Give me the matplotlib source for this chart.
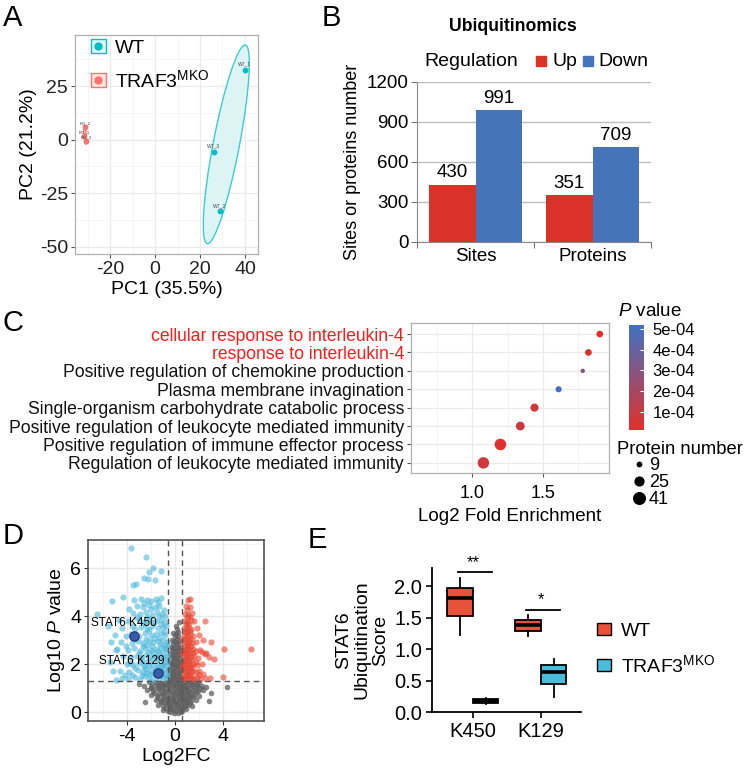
import numpy as np
import matplotlib
matplotlib.use('Agg')
import matplotlib.pyplot as plt
from matplotlib.patches import Ellipse, Patch, Rectangle
from matplotlib.lines import Line2D
from matplotlib.colors import LinearSegmentedColormap, Normalize
from matplotlib.legend_handler import HandlerTuple
import matplotlib.cm as cm

plt.rcParams['font.family'] = ['Liberation Sans', 'DejaVu Sans']
plt.rcParams['mathtext.fontset'] = 'custom'
plt.rcParams['mathtext.rm'] = 'Liberation Sans'
plt.rcParams['mathtext.it'] = 'Liberation Sans:italic'
plt.rcParams['mathtext.bf'] = 'Liberation Sans:bold'
plt.rcParams['axes.unicode_minus'] = False

# ---------------- data ----------------
# A: PCA
pca_wt_names = ['WT_1', 'WT_3', 'WT_2']
pca_wt_pc1 = [40.0, 26.2, 28.9]
pca_wt_pc2 = [32.5, -5.6, -33.4]
pca_ko_names = ['KO_2', 'KO_1', 'KO_3']
pca_ko_pc1 = [-31.2, -31.5, -30.7]
pca_ko_pc2 = [5.8, 1.8, -0.5]
pca_xticks = [-20, 0, 20, 40]
pca_yticks = [-50, -25, 0, 25]

# B: bar chart
ubi_categories = ['Sites', 'Proteins']
ubi_up = [430, 351]
ubi_down = [991, 709]
ubi_yticks = [0, 300, 600, 900, 1200]

# C: GO enrichment
go_terms = ['cellular response to interleukin-4',
            'response to interleukin-4',
            'Positive regulation of chemokine production',
            'Plasma membrane invagination',
            'Single-organism carbohydrate catabolic process',
            'Positive regulation of leukocyte mediated immunity',
            'Positive regulation of immune effector process',
            'Regulation of leukocyte mediated immunity']
go_fold = [1.90, 1.82, 1.78, 1.61, 1.44, 1.34, 1.20, 1.08]
go_pvalue = [1.2e-5, 2.0e-5, 2.9e-4, 5.2e-4, 6.0e-5, 8.5e-5, 2.5e-5, 7.0e-5]
go_count = [16, 16, 9, 14, 22, 25, 41, 40]
go_red_terms = [0, 1]
go_size_legend = [9, 25, 41]
go_cbar_ticks = [1e-4, 2e-4, 3e-4, 4e-4, 5e-4]
go_cbar_labels = ['1e-04', '2e-04', '3e-04', '4e-04', '5e-04']

# D: volcano
down_pts = [(-4.4, 1.42), (-3.9, 1.38), (-3.3, 1.45), (-2.9, 1.36), (-2.5, 1.48), (-2.2, 1.4), (-1.9, 1.35),
            (-1.6, 1.5), (-1.3, 1.38), (-1.0, 1.44), (-0.75, 1.36), (-1.15, 1.55), (-0.85, 1.6), (-2.05, 1.58),
            (-2.75, 1.55), (-4.6, 1.72), (-3.8, 1.68), (-3.1, 1.75), (-2.7, 1.66), (-2.4, 1.78), (-2.0, 1.7),
            (-1.7, 1.74), (-1.2, 1.68), (-0.9, 1.8), (-0.65, 1.7), (-1.45, 1.85), (-0.7, 1.95), (-4.0, 2.02),
            (-3.5, 1.96), (-3.0, 2.05), (-2.6, 1.98), (-2.3, 2.08), (-1.9, 1.95), (-1.5, 2.04), (-1.1, 1.98),
            (-0.8, 2.1), (-0.62, 2.2), (-1.3, 2.2), (-4.3, 2.32), (-3.7, 2.28), (-3.2, 2.35), (-2.8, 2.26),
            (-2.4, 2.38), (-2.1, 2.3), (-1.7, 2.34), (-1.3, 2.42), (-1.0, 2.3), (-0.7, 2.45), (-4.8, 2.62),
            (-3.9, 2.58), (-3.4, 2.65), (-2.9, 2.56), (-2.5, 2.68), (-2.0, 2.6), (-1.6, 2.64), (-1.2, 2.7),
            (-0.85, 2.62), (-0.65, 2.8), (-4.5, 2.92), (-3.6, 2.88), (-3.1, 2.95), (-2.7, 2.86), (-2.2, 2.98),
            (-1.8, 2.9), (-1.4, 2.94), (-1.0, 3.0), (-0.7, 2.9), (-5.0, 3.22), (-4.1, 3.18), (-3.7, 3.25),
            (-3.0, 3.16), (-2.5, 3.28), (-2.0, 3.2), (-1.6, 3.24), (-1.2, 3.3), (-0.8, 3.2), (-4.4, 3.52),
            (-3.3, 3.48), (-2.8, 3.55), (-2.3, 3.46), (-1.9, 3.58), (-1.4, 3.5), (-1.0, 3.54), (-0.75, 3.6),
            (-4.7, 3.82), (-3.9, 3.78), (-3.0, 3.85), (-2.6, 3.76), (-2.1, 3.88), (-1.6, 3.8), (-1.2, 3.84),
            (-0.8, 3.75), (-3.5, 4.12), (-2.9, 4.08), (-2.4, 4.15), (-1.9, 4.06), (-1.5, 4.18), (-1.1, 4.1),
            (-0.8, 4.02), (-3.2, 4.42), (-2.7, 4.38), (-2.2, 4.45), (-1.7, 4.36), (-1.3, 4.4), (-3.4, 4.68),
            (-2.8, 4.72), (-2.3, 4.66), (-1.6, 4.7), (-1.2, 4.74), (-2.0, 4.62),
            (-3.55, 1.55), (-2.35, 1.62), (-1.75, 1.6), (-1.05, 1.72), (-0.68, 1.5), (-3.35, 1.85),
            (-2.55, 1.88), (-2.15, 1.9), (-1.6, 1.82), (-1.2, 1.9), (-0.95, 2.0), (-2.75, 2.15), (-2.05, 2.18),
            (-1.55, 2.25), (-0.88, 2.3), (-3.0, 2.45), (-2.25, 2.5), (-1.85, 2.52), (-1.45, 2.55), (-1.05, 2.5),
            (-0.75, 2.65), (-2.7, 2.75), (-2.3, 2.78), (-1.95, 2.75), (-1.25, 2.85), (-0.9, 2.8), (-3.3, 3.05),
            (-2.4, 3.05), (-1.75, 3.08), (-1.35, 3.1), (-0.95, 3.35), (-2.15, 3.4), (-1.2, 3.65), (-2.5, 3.65),
            (-1.8, 3.7), (-3.2, 3.95), (-2.3, 3.98), (-1.35, 4.0), (-0.95, 4.25), (-2.0, 4.3), (-2.55, 4.55),
            (-1.45, 4.58), (-3.8, 4.3), (-4.1, 2.75), (-3.75, 2.05), (-4.2, 1.55), (-3.6, 3.6), (-5.4, 2.1),
            (-5.3, 2.9),
            (-3.67, 6.85), (-2.44, 6.47), (-1.86, 6.01), (-2.14, 5.85), (-1.17, 5.87), (-2.6, 5.6),
            (-2.27, 5.53), (-3.25, 5.33), (-3.53, 5.3), (-1.67, 5.5), (-4.3, 4.78), (-5.28, 4.63),
            (-6.53, 4.08), (-5.2, 1.72), (-4.9, 1.35), (-5.6, 3.6), (-4.95, 2.6)]
up_pts = [(0.65, 1.4), (0.8, 1.36), (1.0, 1.45), (1.2, 1.38), (1.4, 1.42), (1.6, 1.36), (1.8, 1.44), (2.1, 1.38),
          (2.5, 1.42), (0.7, 1.7), (0.9, 1.66), (1.1, 1.74), (1.3, 1.68), (1.5, 1.72), (1.7, 1.65), (2.0, 1.7),
          (0.65, 2.0), (0.85, 1.96), (1.05, 2.04), (1.25, 1.98), (1.5, 2.02), (1.8, 1.96), (2.2, 2.0),
          (0.7, 2.3), (0.9, 2.26), (1.1, 2.34), (1.35, 2.28), (1.6, 2.32), (1.9, 2.26), (0.65, 2.6),
          (0.85, 2.56), (1.0, 2.64), (1.2, 2.58), (1.45, 2.62), (1.75, 2.56), (2.1, 2.6), (0.7, 2.9),
          (0.95, 2.86), (1.15, 2.94), (1.4, 2.88), (1.7, 2.92), (0.75, 3.2), (0.95, 3.16), (1.2, 3.24),
          (1.5, 3.18), (2.0, 3.22), (0.7, 3.5), (0.9, 3.46), (1.1, 3.54), (1.35, 3.48), (1.8, 3.52),
          (0.8, 3.8), (1.0, 3.76), (1.3, 3.84), (1.6, 3.78), (0.85, 4.1), (1.05, 4.06), (1.4, 4.12),
          (0.9, 4.4), (1.2, 4.36), (1.1, 4.68), (1.2, 4.72),
          (0.75, 1.55), (0.95, 1.5), (1.15, 1.58), (1.35, 1.52), (0.6, 1.85), (0.8, 1.83), (1.0, 1.88),
          (1.2, 1.85), (1.4, 1.86), (0.75, 2.15), (0.95, 2.12), (1.15, 2.18), (1.4, 2.15), (0.6, 2.45),
          (0.8, 2.42), (1.0, 2.47), (1.25, 2.44), (1.5, 2.46), (0.75, 2.75), (0.95, 2.72), (1.1, 2.78),
          (1.3, 2.74), (0.6, 3.05), (0.85, 3.03), (1.05, 3.08), (1.3, 3.05), (0.8, 3.35), (1.0, 3.33),
          (1.2, 3.38), (0.9, 3.65), (1.15, 3.68), (0.95, 3.95), (1.2, 3.98), (1.0, 4.25), (1.7, 2.1),
          (1.95, 1.55), (2.3, 1.6),
          (6.33, 2.62), (4.03, 2.62), (3.0, 2.93), (2.5, 3.79), (2.2, 2.5), (2.5, 2.4), (2.8, 2.3),
          (3.2, 2.2), (4.0, 1.47), (2.9, 1.4), (2.3, 3.0), (2.6, 2.45)]
ns_pts = [(-1.0, 0.1), (-0.6, 0.05), (-0.3, 0.12), (0.0, 0.06), (0.3, 0.1), (0.6, 0.04), (0.9, 0.12),
          (-1.4, 0.3), (-1.0, 0.26), (-0.7, 0.34), (-0.4, 0.28), (-0.1, 0.32), (0.2, 0.27), (0.5, 0.33),
          (0.8, 0.29), (1.1, 0.31), (1.4, 0.26),
          (-1.6, 0.5), (-1.2, 0.46), (-0.9, 0.54), (-0.5, 0.48), (-0.2, 0.52), (0.1, 0.47), (0.4, 0.53),
          (0.7, 0.49), (1.0, 0.51), (1.3, 0.46), (1.7, 0.52),
          (-2.0, 0.7), (-1.5, 0.66), (-1.1, 0.74), (-0.7, 0.68), (-0.3, 0.72), (0.0, 0.67), (0.3, 0.73),
          (0.6, 0.69), (0.9, 0.71), (1.2, 0.66), (1.6, 0.72), (2.0, 0.68),
          (-2.3, 0.9), (-1.8, 0.86), (-1.3, 0.94), (-0.9, 0.88), (-0.5, 0.92), (-0.1, 0.87), (0.2, 0.93),
          (0.5, 0.89), (0.8, 0.91), (1.1, 0.86), (1.5, 0.92), (1.9, 0.88), (2.3, 0.9),
          (-2.6, 1.1), (-2.0, 1.06), (-1.5, 1.14), (-1.0, 1.08), (-0.6, 1.12), (-0.2, 1.07), (0.1, 1.13),
          (0.4, 1.09), (0.7, 1.11), (1.0, 1.06), (1.4, 1.12), (1.8, 1.08), (2.2, 1.1), (2.6, 1.06),
          (-2.2, 1.24), (-1.7, 1.27), (-1.2, 1.22), (-0.8, 1.26), (-0.4, 1.23), (0.0, 1.27), (0.4, 1.22),
          (0.8, 1.26), (1.2, 1.24), (1.6, 1.27), (2.0, 1.23),
          (-0.5, 1.5), (-0.3, 1.46), (-0.1, 1.53), (0.1, 1.48), (0.3, 1.52), (0.5, 1.47),
          (-0.5, 1.8), (-0.3, 1.76), (-0.1, 1.83), (0.1, 1.78), (0.3, 1.82), (0.5, 1.77),
          (-0.45, 2.1), (-0.25, 2.06), (-0.05, 2.13), (0.15, 2.08), (0.35, 2.12), (0.55, 2.07),
          (-0.4, 2.4), (-0.2, 2.36), (0.0, 2.43), (0.2, 2.38), (0.4, 2.42),
          (-0.35, 2.7), (-0.15, 2.66), (0.05, 2.73), (0.25, 2.68), (0.45, 2.72),
          (-0.25, 3.0), (-0.05, 2.96), (0.15, 3.03), (0.35, 2.98),
          (-0.15, 3.3), (0.05, 3.27), (0.25, 3.33), (0.1, 3.6), (0.3, 3.75),
          (-0.8, 0.18), (-0.45, 0.2), (-0.15, 0.18), (0.15, 0.2), (0.45, 0.18), (0.75, 0.2), (-1.2, 0.4),
          (-0.85, 0.42), (-0.55, 0.38), (-0.25, 0.4), (0.05, 0.38), (0.35, 0.41), (0.65, 0.39), (0.95, 0.4),
          (1.25, 0.38), (-1.4, 0.6), (-1.0, 0.62), (-0.6, 0.58), (-0.2, 0.6), (0.2, 0.62), (0.5, 0.58),
          (0.85, 0.6), (1.15, 0.6), (1.5, 0.62), (-1.75, 0.8), (-1.3, 0.79), (-0.95, 0.8), (-0.55, 0.82),
          (-0.15, 0.78), (0.15, 0.8), (0.45, 0.78), (0.75, 0.81), (1.05, 0.79), (1.35, 0.8), (1.75, 0.82),
          (-2.0, 1.0), (-1.6, 0.98), (-1.2, 1.0), (-0.8, 0.99), (-0.4, 1.0), (0.0, 0.98), (0.3, 1.0),
          (0.6, 0.99), (0.9, 1.0), (1.25, 0.98), (1.65, 1.0), (2.05, 0.98), (-1.9, 1.18), (-1.35, 1.17),
          (-0.95, 1.18), (-0.55, 1.17), (-0.15, 1.18), (0.25, 1.17), (0.6, 1.18), (0.95, 1.17), (1.4, 1.18),
          (1.85, 1.16), (-0.4, 1.35), (-0.2, 1.38), (0.0, 1.36), (0.2, 1.38), (0.4, 1.36), (-0.4, 1.65),
          (-0.2, 1.64), (0.0, 1.66), (0.2, 1.64), (0.4, 1.66), (-0.35, 1.95), (-0.15, 1.96), (0.05, 1.94),
          (0.25, 1.96), (0.45, 1.94), (-0.3, 2.25), (-0.1, 2.26), (0.1, 2.24), (0.3, 2.26), (-0.25, 2.55),
          (-0.05, 2.56), (0.15, 2.54), (0.35, 2.56), (-0.15, 2.85), (0.05, 2.86), (0.25, 2.84), (0.0, 3.15),
          (0.2, 3.15), (0.15, 3.45), (-0.1, -0.05), (0.2, -0.05), (0.5, -0.02), (-0.4, -0.02),
          (4.3, 1.03), (3.0, 0.8), (-3.0, 1.18), (2.8, 0.45), (-2.5, 0.4)]
stat6_sites = ['STAT6 K450', 'STAT6 K129']
stat6_fc = [-3.4, -1.42]
stat6_logp = [3.17, 1.63]
fc_cut = 0.585
p_cut = 1.3

# E: boxplot (whislo, q1, med, q3, whishi)
box_sites = ['K450', 'K129']
box_wt = [[1.22, 1.52, 1.82, 1.97, 2.13], [1.21, 1.29, 1.38, 1.46, 1.54]]
box_ko = [[0.12, 0.145, 0.175, 0.205, 0.215], [0.24, 0.44, 0.635, 0.75, 0.84]]
box_sig = ['**', '*']
box_yticks = [0.0, 0.5, 1.0, 1.5, 2.0]

# ---------------- figure ----------------
W, H = 750, 772
fig = plt.figure(figsize=(7.5, 7.72), dpi=100)


def pbox(x0, y0, x1, y1):
    return [x0 / W, 1 - y1 / H, (x1 - x0) / W, (y1 - y0) / H]


def ptxt(x, y, s, **kw):
    fig.text(x / W, 1 - y / H, s, **kw)


TEAL = '#00BFC4'
SALMON = '#F8766D'

# panel letters
for lab, x, y in [('A', 3, 26), ('B', 322, 26), ('C', 3, 331), ('D', 3, 544), ('E', 308, 548)]:
    ptxt(x, y, lab, fontsize=21, va='baseline', ha='left')

# ===== A =====
axA = fig.add_axes(pbox(75, 35, 258, 254))
axA.set_xlim(-35.6, 45.8)
axA.set_ylim(-53.3, 48.8)
axA.set_xticks(pca_xticks)
axA.set_yticks(pca_yticks)
axA.set_xticks([-30, -10, 10, 30], minor=True)
axA.set_yticks([-37.5, -12.5, 12.5, 37.5], minor=True)
axA.set_axisbelow(True)
axA.grid(which='major', color='#EBEBEB', lw=0.9)
axA.grid(which='minor', color='#F4F4F4', lw=0.6)
axA.tick_params(which='minor', length=0)
axA.tick_params(which='major', length=3, color='#555555', labelsize=14, labelcolor='#222222', pad=2)
for s in axA.spines.values():
    s.set_color('#B0B0B0')
    s.set_linewidth(0.9)


def conf_ellipse(ax, xs, ys, k, fc, ec):
    xs = np.asarray(xs)
    ys = np.asarray(ys)
    cov = np.cov(xs, ys)
    vals, vecs = np.linalg.eigh(cov)
    ang = np.degrees(np.arctan2(vecs[1, 1], vecs[0, 1]))
    e = Ellipse((xs.mean(), ys.mean()), 2 * k * np.sqrt(vals[1]), 2 * k * np.sqrt(max(vals[0], 1e-6)),
                angle=ang, facecolor=fc, edgecolor=ec, lw=1.0, zorder=1)
    ax.add_patch(e)


conf_ellipse(axA, pca_wt_pc1, pca_wt_pc2, 1.4, '#DDF4F5', '#3CCDD0')
conf_ellipse(axA, pca_ko_pc1, pca_ko_pc2, 1.4, '#FCE4E2', SALMON)
axA.scatter(pca_wt_pc1, pca_wt_pc2, s=10, color=TEAL, zorder=3)
axA.scatter(pca_ko_pc1, pca_ko_pc2, s=10, color=SALMON, zorder=3)
for n, x, y in zip(pca_wt_names, pca_wt_pc1, pca_wt_pc2):
    axA.text(x, y + 1.5, n, fontsize=3.5, color='#444444', ha='center', va='bottom', zorder=4)
for n, x, y in zip(pca_ko_names, pca_ko_pc1, pca_ko_pc2):
    axA.text(x, y + 0.8, n, fontsize=3.2, color='#444444', ha='center', va='bottom', zorder=4)
axA.set_xlabel('PC1 (35.5%)', fontsize=14, labelpad=2)
axA.set_ylabel('PC2 (21.2%)', fontsize=14, labelpad=2)
hA = [(Patch(facecolor='#E3F6F7', edgecolor=TEAL, lw=1.0),
       Line2D([], [], marker='o', color=TEAL, ls='', ms=5)),
      (Patch(facecolor='#FCE6E4', edgecolor=SALMON, lw=1.0),
       Line2D([], [], marker='o', color=SALMON, ls='', ms=5))]
axA.legend(hA, ['WT', 'TRAF3$^{\\mathrm{MKO}}$'], handler_map={tuple: HandlerTuple(ndivide=1, pad=0)},
           loc='upper left', bbox_to_anchor=(91 / W, 1 - 39 / H), bbox_transform=fig.transFigure,
           frameon=False, fontsize=14, handlelength=0.75, handleheight=0.75, handletextpad=0.5,
           labelspacing=0.62, borderpad=0, borderaxespad=0)

# ===== B =====
axB = fig.add_axes(pbox(417, 82, 651, 242))
xB = np.arange(len(ubi_categories))
bw = 0.4
axB.bar(xB - bw / 2, ubi_up, width=bw, color='#D93228', zorder=2)
axB.bar(xB + bw / 2, ubi_down, width=bw, color='#4674B8', zorder=2)
for x, v in zip(xB - bw / 2, ubi_up):
    axB.text(x, v + 25, str(v), ha='center', va='bottom', fontsize=13.5)
for x, v in zip(xB + bw / 2, ubi_down):
    axB.text(x, v + 25, str(v), ha='center', va='bottom', fontsize=13.5)
axB.set_xlim(-0.5, 1.5)
axB.set_ylim(0, 1200)
axB.set_yticks(ubi_yticks)
axB.yaxis.grid(True, color='#BDBDBD', lw=1.0)
axB.set_axisbelow(True)
axB.set_xticks([-0.5, 0.5, 1.5])
axB.set_xticklabels([])
axB.set_xticks(xB, minor=True)
axB.set_xticklabels(ubi_categories, minor=True, fontsize=13.5)
axB.tick_params(axis='x', which='minor', length=0, pad=4)
axB.tick_params(axis='x', which='major', length=4, color='#777777')
axB.tick_params(axis='y', length=4, color='#777777', labelsize=13.5, pad=2)
for s in ['top', 'right']:
    axB.spines[s].set_visible(False)
axB.spines['left'].set_color('#888888')
axB.spines['bottom'].set_color('#888888')
axB.set_ylabel('Sites or proteins number', fontsize=13, labelpad=4)
ptxt(513, 31, 'Ubiquitinomics', fontsize=12.7, fontweight='bold', ha='center', va='baseline')
ptxt(424, 66, 'Regulation', fontsize=14, ha='left', va='baseline')
fig.patches.append(Rectangle((536 / W, 1 - 66 / H), 10 / W, 10 / H, transform=fig.transFigure,
                             color='#D93228'))
ptxt(553, 66, 'Up', fontsize=14, ha='left', va='baseline')
fig.patches.append(Rectangle((583 / W, 1 - 66 / H), 10 / W, 10 / H, transform=fig.transFigure,
                             color='#4674B8'))
ptxt(598, 66, 'Down', fontsize=14, ha='left', va='baseline')

# ===== C =====
axC = fig.add_axes(pbox(411, 323, 609, 473))
nT = len(go_terms)
yC = np.arange(nT, 0, -1)
cmapC = LinearSegmentedColormap.from_list('pv', ['#E2302A', '#3F71C3'])
normC = Normalize(vmin=min(go_pvalue), vmax=max(go_pvalue))
cmin, cmax = min(go_count), max(go_count)


def size_of(n):
    return 10 + (np.asarray(n, float) - cmin) / (cmax - cmin) * 60


axC.scatter(go_fold, yC, s=size_of(go_count), c=go_pvalue, cmap=cmapC, norm=normC, zorder=3, lw=0)
axC.set_xlim(0.57, 1.965)
axC.set_ylim(0.45, nT + 0.6)
axC.set_xticks([1.0, 1.5])
axC.set_xticklabels(['1.0', '1.5'])
axC.set_xticks([0.75, 1.25, 1.75], minor=True)
axC.set_yticks(yC)
axC.set_yticklabels(go_terms, fontsize=12.7)
for i, t in enumerate(axC.get_yticklabels()):
    t.set_color('#FF1A1A' if i in go_red_terms else '#111111')
axC.set_axisbelow(True)
axC.grid(which='major', color='#EBEBEB', lw=0.9)
axC.grid(which='minor', axis='x', color='#F3F3F3', lw=0.6)
axC.tick_params(which='minor', length=0)
axC.tick_params(which='major', length=3, color='#555555', pad=2)
axC.tick_params(axis='x', labelsize=13, pad=6)
for s in axC.spines.values():
    s.set_color('#B0B0B0')
    s.set_linewidth(0.9)
axC.set_xlabel('Log2 Fold Enrichment', fontsize=13.5, labelpad=4)

caxC = fig.add_axes(pbox(629, 325, 644, 430))
cb = fig.colorbar(cm.ScalarMappable(norm=normC, cmap=cmapC), cax=caxC)
cb.set_ticks(go_cbar_ticks)
cb.set_ticklabels(go_cbar_labels)
cb.outline.set_visible(False)
caxC.tick_params(length=3, color='white', direction='in', labelsize=12, pad=6)
ptxt(618, 316, '$\\mathit{P}$ value', fontsize=13.5, ha='left', va='baseline')
ptxt(617, 454, 'Protein number', fontsize=13.2, ha='left', va='baseline')
hC = [Line2D([], [], marker='o', color='black', ls='', ms=np.sqrt(size_of(v))) for v in go_size_legend]
fig.legend(hC, [str(v) for v in go_size_legend], loc='upper left',
           bbox_to_anchor=(631 / W, 1 - 457 / H), frameon=False, fontsize=13,
           handlelength=0.9, handletextpad=0.1, labelspacing=0.0, borderpad=0, borderaxespad=0)

# ===== D =====
axD = fig.add_axes(pbox(88, 540, 264, 721))
axD.set_xlim(-7.25, 7.4)
axD.set_ylim(-0.375, 7.17)
axD.set_xticks([-4, 0, 4])
axD.set_xticks([-6, -2, 2, 6], minor=True)
axD.set_yticks([0, 2, 4, 6])
axD.set_yticks([1, 3, 5, 7], minor=True)
axD.set_axisbelow(True)
axD.grid(which='major', color='#E8E8E8', lw=1.0)
axD.grid(which='minor', color='#F2F2F2', lw=0.6)
axD.tick_params(which='minor', length=0)
axD.tick_params(which='major', length=3, color='#333333', labelsize=14, pad=2)
for s in axD.spines.values():
    s.set_color('#444444')
    s.set_linewidth(1.1)
nsx, nsy = zip(*ns_pts)
dnx, dny = zip(*down_pts)
upx, upy = zip(*up_pts)
axD.scatter(nsx, nsy, s=16, color='#5E5E5E', alpha=0.75, lw=0, zorder=2)
axD.scatter(dnx, dny, s=20, color='#4DB8DB', alpha=0.6, lw=0, zorder=2)
axD.scatter(upx, upy, s=20, color='#E8442F', alpha=0.6, lw=0, zorder=2)
axD.axvline(-fc_cut, color='#555555', ls=(0, (4, 3)), lw=1.0, zorder=3)
axD.axvline(fc_cut, color='#555555', ls=(0, (4, 3)), lw=1.0, zorder=3)
axD.axhline(p_cut, color='#555555', ls=(0, (4, 3)), lw=1.0, zorder=3)
axD.scatter(stat6_fc, stat6_logp, s=45, color='#3B5BA8', edgecolor='#1E3A7A', lw=0.9, zorder=4)
axD.text(stat6_fc[0] - 0.85, stat6_logp[0] + 0.3, stat6_sites[0], fontsize=8.5, ha='center',
         va='bottom', zorder=5)
axD.text(stat6_fc[1] - 2.2, stat6_logp[1] + 0.25, stat6_sites[1], fontsize=8.5, ha='center',
         va='bottom', zorder=5)
axD.set_xlabel('Log2FC', fontsize=14, labelpad=2)
axD.set_ylabel('Log10 $\\mathit{P}$ value', fontsize=14, labelpad=2)

# ===== E =====
axE = fig.add_axes(pbox(432, 568, 581, 712))
posE = np.arange(1, len(box_sites) + 1)
off = 0.19
bwE = 0.37


def mkstats(v):
    return dict(whislo=v[0], q1=v[1], med=v[2], q3=v[3], whishi=v[4], fliers=[])


common = dict(widths=bwE, showcaps=False, patch_artist=True, showfliers=False,
              whiskerprops=dict(color='black', lw=1.3),
              medianprops=dict(color='black', lw=2.6, solid_capstyle='butt'))
bw1 = axE.bxp([mkstats(v) for v in box_wt], positions=posE - off,
              boxprops=dict(facecolor='#E8513A', edgecolor='black', lw=1.3), **common)
bw2 = axE.bxp([mkstats(v) for v in box_ko], positions=posE + off,
              boxprops=dict(facecolor='#47BEDB', edgecolor='black', lw=1.3), **common)
axE.set_xlim(0.397, 2.59)
axE.set_ylim(0, 2.29)
axE.set_xticks(posE)
axE.set_xticklabels(box_sites)
axE.set_yticks(box_yticks)
axE.set_yticklabels(['%.1f' % v for v in box_yticks])
axE.tick_params(length=4, width=1.2, labelsize=14.5, pad=3)
for s in ['top', 'right']:
    axE.spines[s].set_visible(False)
for s in ['left', 'bottom']:
    axE.spines[s].set_linewidth(1.3)
for p, sig, wt, ko in zip(posE, box_sig, box_wt, box_ko):
    ytop = max(wt[4], ko[4]) + 0.09
    axE.plot([p - 0.22, p + 0.28], [ytop, ytop], color='black', lw=1.3, clip_on=False)
    axE.text(p, ytop + 0.03, sig, ha='center', va='bottom', fontsize=12, clip_on=False)
axE.set_ylabel('STAT6\nUbiquitination\nScore', fontsize=14, linespacing=1.1, labelpad=4)
hE = [Patch(facecolor='#E8513A', edgecolor='black', lw=1.0),
      Patch(facecolor='#47BEDB', edgecolor='black', lw=1.0)]
fig.legend(hE, ['WT', 'TRAF3$^{\\mathrm{MKO}}$'], loc='upper left',
           bbox_to_anchor=(587 / W, 1 - 613 / H), frameon=False, fontsize=14,
           handlelength=0.75, handleheight=0.55, handletextpad=0.5, labelspacing=0.75, borderpad=0)

fig.savefig('out.png', dpi=100)
